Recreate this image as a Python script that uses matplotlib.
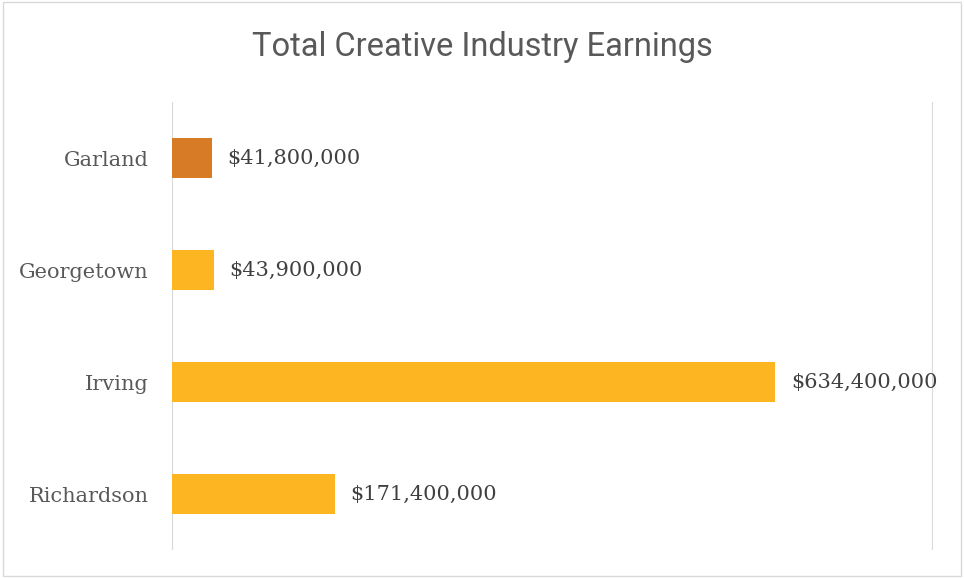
import matplotlib
matplotlib.use("Agg")
import matplotlib.pyplot as plt
from matplotlib.patches import Rectangle

# Earnings by city (US dollars)
cities = ["Garland", "Georgetown", "Irving", "Richardson"]
earnings = [41_800_000, 43_900_000, 634_400_000, 171_400_000]
bar_colors = ["#D77B27", "#FDB621", "#FDB621", "#FDB621"]
title = "Total Creative Industry Earnings"
x_max = 800_000_000

fig = plt.figure(figsize=(9.64, 5.78), dpi=100)
fig.patch.set_facecolor("white")
fig.patches.append(Rectangle((0.003, 0.004), 0.994, 0.992, transform=fig.transFigure,
                             fill=False, edgecolor="#D9D9D9", linewidth=1.0))

ax = fig.add_axes([172 / 964, 28 / 578, 761 / 964, 448 / 578])
y = list(range(len(cities)))
ax.barh(y, earnings, height=0.36, color=bar_colors, zorder=3)
ax.set_ylim(len(cities) - 0.5, -0.5)
ax.set_xlim(0, x_max)

for s in ax.spines.values():
    s.set_visible(False)
ax.set_xticks([])
ax.set_yticks(y)
ax.set_yticklabels(cities, family="DejaVu Serif", fontsize=15, color="#595959")
ax.tick_params(axis="y", length=0, pad=17)
for xv in (0, x_max):
    ax.axvline(xv, color="#D9D9D9", linewidth=1.5, zorder=1)

for yi, v in zip(y, earnings):
    ax.annotate(f"${v:,.0f}", (v, yi), xytext=(11, 0), textcoords="offset points",
                va="center", ha="left", family="DejaVu Serif", fontsize=15,
                color="#404040", zorder=4)

fig.text(0.5, 1 - 47 / 578, title, ha="center", va="center",
         family="Roboto", fontsize=23.5, color="#595959")

fig.savefig("out.png", dpi=100, facecolor="white")
